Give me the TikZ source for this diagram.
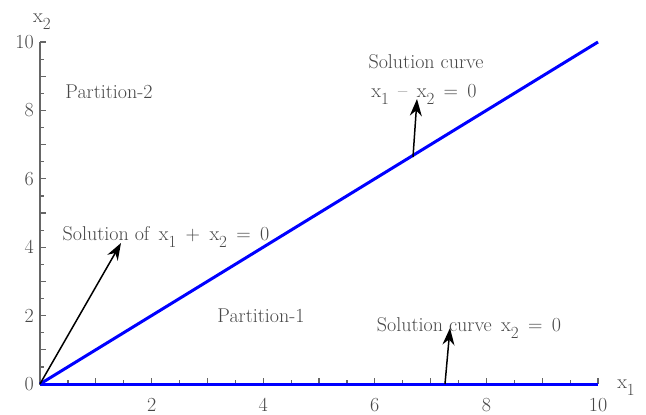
\documentclass[tikz,border=0pt]{standalone}
\usetikzlibrary{arrows.meta}
\newcommand\sbs[1]{\raisebox{-0.36em}{\fontsize{17}{20}\selectfont #1}}
\begin{document}
\begin{tikzpicture}[x=1pt,y=-1pt,
  lbl/.style={text=black!72,font=\fontsize{20}{24}\selectfont,inner sep=0pt},
  axisline/.style={draw=black!60,line width=1.6pt},
  sol/.style={draw=blue,line width=3pt},
  pointer/.style={draw=black,line width=1.5pt,-{Stealth[length=17pt,width=12pt]}}]
\useasboundingbox (0,0) rectangle (646,415);
% axes
\coordinate (O) at (40,384);
\coordinate (Ytop) at (40,42);
\coordinate (Xend) at (598,384);
\coordinate (D) at (598,42);
\draw[axisline] (Ytop) -- (O) -- (Xend);
\foreach \i in {0,...,20}{
  \pgfmathsetmacro{\xx}{40+\i*27.9}
  \pgfmathsetmacro{\yy}{384-\i*17.1}
  \pgfmathsetmacro{\tl}{ifthenelse(mod(\i,2)==0,6,4)}
  \draw[black!60,line width=1.2pt] (\xx,384) -- (\xx,384-\tl);
  \draw[black!60,line width=1.2pt] (40,\yy) -- (40+\tl,\yy);
}
% tick labels
\foreach \v in {0,2,4,6,8,10}{
  \pgfmathsetmacro{\yy}{384-\v*34.2}
  \node[lbl,anchor=east] (ylab\v) at (34,\yy) {\v};
}
\foreach \v in {2,4,6,8,10}{
  \pgfmathsetmacro{\xx}{40+\v*55.8}
  \node[lbl] (xlab\v) at (\xx,405) {\v};
}
\node[lbl,anchor=base] (xtwo) at (42,22) {x\sbs{2}};
\node[lbl,anchor=base] (xone) at (626,388) {x\sbs{1}};
% solution curves
\draw[sol] (O) -- (D);
\draw[sol] (O) -- (Xend);
% labels
\node[lbl] (p2) at (109,92) {Partition-2};
\node[lbl] (p1) at (261,316) {Partition-1};
\node[lbl] (sc) at (426,62) {Solution curve};
\node[lbl,anchor=base] (eqa) at (424,97) {x\sbs{1} \,--\, x\sbs{2} \,=\, 0};
\node[lbl,anchor=base] (eqb) at (166,240) {Solution of \,x\sbs{1} \,+\, x\sbs{2} \,=\, 0};
\node[lbl,anchor=base] (eqc) at (469,331) {Solution curve \,x\sbs{2} \,=\, 0};
% pointers
\coordinate (a1s) at (40,384);
\coordinate (a1e) at (121,243);
\coordinate (a2s) at (413,157);
\coordinate (a2e) at (417,99);
\coordinate (a3s) at (445,384);
\coordinate (a3e) at (450,328);
\draw[pointer] (a1s) -- (a1e);
\draw[pointer] (a2s) -- (a2e);
\draw[pointer] (a3s) -- (a3e);
\end{tikzpicture}
\end{document}
